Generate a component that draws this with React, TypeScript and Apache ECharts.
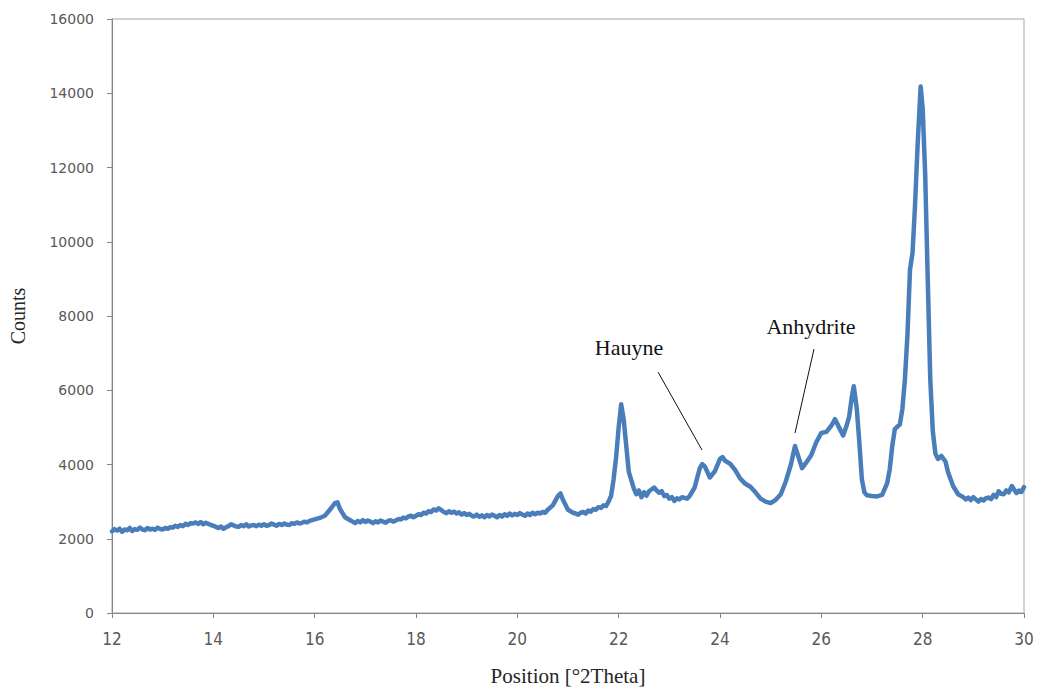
import React, { useEffect, useRef } from "react";
import * as echarts from "echarts";

const position = [
  12.0, 12.05, 12.1, 12.15, 12.2, 12.25, 12.3, 12.35, 12.4, 12.45, 12.5, 12.55, 12.6, 12.65, 12.7, 12.75, 12.8, 12.85, 12.9, 12.95,
  13.0, 13.05, 13.1, 13.15, 13.2, 13.25, 13.3, 13.35, 13.4, 13.45, 13.5, 13.55, 13.6, 13.65, 13.7, 13.75, 13.8, 13.85, 13.9, 13.95,
  14.0, 14.05, 14.1, 14.15, 14.2, 14.25, 14.3, 14.35, 14.4, 14.45, 14.5, 14.55, 14.6, 14.65, 14.7, 14.75, 14.8, 14.85, 14.9, 14.95,
  15.0, 15.05, 15.1, 15.15, 15.2, 15.25, 15.3, 15.35, 15.4, 15.45, 15.5, 15.55, 15.6, 15.65, 15.7, 15.75, 15.8, 15.85, 15.9, 15.95,
  16.0, 16.1, 16.2, 16.3, 16.4, 16.45, 16.5, 16.6, 16.7, 16.75, 16.8, 16.85, 16.9, 16.95,
  17.0, 17.05, 17.1, 17.15, 17.2, 17.25, 17.3, 17.35, 17.4, 17.45, 17.5, 17.55, 17.6, 17.65, 17.7, 17.75, 17.8, 17.85, 17.9, 17.95,
  18.0, 18.05, 18.1, 18.15, 18.2, 18.25, 18.3, 18.35, 18.4, 18.45, 18.5, 18.55, 18.6, 18.65, 18.7, 18.75, 18.8, 18.85, 18.9, 18.95,
  19.0, 19.05, 19.1, 19.15, 19.2, 19.25, 19.3, 19.35, 19.4, 19.45, 19.5, 19.55, 19.6, 19.65, 19.7, 19.75, 19.8, 19.85, 19.9, 19.95,
  20.0, 20.05, 20.1, 20.15, 20.2, 20.25, 20.3, 20.35, 20.4, 20.45, 20.5, 20.55, 20.6, 20.7, 20.8, 20.85, 20.9,
  21.0, 21.05, 21.1, 21.15, 21.2, 21.25, 21.3, 21.35, 21.4, 21.45, 21.5, 21.55, 21.6, 21.65, 21.7, 21.75, 21.8, 21.85, 21.9, 21.95,
  22.0, 22.05, 22.1, 22.15, 22.2, 22.3, 22.35, 22.4, 22.45, 22.5, 22.55, 22.6, 22.7, 22.75, 22.8, 22.85, 22.9, 22.95,
  23.0, 23.05, 23.1, 23.15, 23.2, 23.25, 23.3, 23.35, 23.4, 23.5, 23.6, 23.65, 23.7, 23.8, 23.9,
  24.0, 24.05, 24.1, 24.2, 24.3, 24.4, 24.5, 24.6, 24.7, 24.8, 24.9,
  25.0, 25.1, 25.2, 25.3, 25.4, 25.48, 25.55, 25.62, 25.7, 25.8, 25.9,
  26.0, 26.1, 26.2, 26.27, 26.35, 26.43, 26.5, 26.55, 26.6, 26.64, 26.7, 26.75, 26.8, 26.85, 26.9,
  27.0, 27.1, 27.2, 27.3, 27.35, 27.4, 27.45, 27.55, 27.6, 27.65, 27.7, 27.75, 27.8, 27.85, 27.9, 27.96,
  28.0, 28.05, 28.1, 28.15, 28.2, 28.25, 28.3, 28.37, 28.45, 28.5, 28.6, 28.7, 28.8, 28.85, 28.9, 28.95,
  29.0, 29.05, 29.1, 29.15, 29.2, 29.25, 29.3, 29.35, 29.4, 29.45, 29.5, 29.55, 29.6, 29.65, 29.7, 29.76, 29.85, 29.9, 29.95, 30.0,
];

const counts = [
  2200, 2260, 2220, 2270, 2190, 2250, 2230, 2290, 2210, 2260, 2240, 2300, 2250, 2230, 2290, 2250, 2270, 2240, 2300, 2260,
  2250, 2290, 2270, 2310, 2300, 2350, 2320, 2370, 2340, 2400, 2370, 2420, 2410, 2440, 2400, 2450, 2390, 2430, 2400, 2370,
  2350, 2320, 2290, 2330, 2270, 2310, 2340, 2390, 2360, 2330, 2320, 2370, 2340, 2390, 2330, 2360, 2370, 2340, 2380, 2350,
  2390, 2350, 2370, 2410, 2380, 2350, 2400, 2370, 2410, 2380, 2370, 2420, 2400, 2440, 2410, 2430, 2460, 2440, 2480, 2500,
  2520, 2560, 2620, 2780, 2960, 2980, 2800, 2580, 2500, 2460, 2420, 2480, 2440, 2500,
  2450, 2490, 2460, 2420, 2470, 2440, 2490, 2460, 2430, 2480, 2500, 2460, 2490, 2530, 2520, 2570, 2550, 2600, 2620, 2580,
  2620, 2660, 2640, 2700, 2680, 2740, 2720, 2790, 2760, 2820, 2770, 2720, 2690, 2740, 2700, 2730, 2680, 2710, 2650, 2690,
  2640, 2670, 2620, 2600, 2650, 2590, 2630, 2580, 2640, 2600, 2650, 2620, 2580, 2640, 2600, 2660, 2620, 2680, 2630, 2670,
  2640, 2690, 2650, 2620, 2680, 2640, 2700, 2660, 2700, 2680, 2720, 2700, 2780, 2900, 3150, 3220, 3050,
  2780, 2740, 2700, 2680, 2650, 2700, 2720, 2680, 2760, 2730, 2800, 2780, 2850, 2830, 2900, 2880, 3000, 3150, 3600, 4200,
  5000, 5620, 5200, 4500, 3800, 3350, 3200, 3300, 3120, 3250, 3160, 3280, 3380, 3300, 3240, 3280, 3150, 3180,
  3080, 3120, 3020, 3090, 3060, 3120, 3100, 3080, 3150, 3380, 3900, 4010, 3950, 3650, 3820,
  4150, 4200, 4100, 4020, 3850, 3620, 3480, 3400, 3250, 3080, 3000,
  2960, 3050, 3200, 3550, 4000, 4500, 4200, 3900, 4050, 4250, 4600,
  4850, 4880, 5050, 5220, 5000, 4780, 5050, 5300, 5800, 6110, 5500, 4600, 3600, 3250, 3170,
  3150, 3140, 3180, 3500, 3870, 4500, 4950, 5080, 5500, 6300, 7500, 9250, 9700, 11000, 12600, 14180,
  13600, 11800, 9000, 6300, 4900, 4300, 4150, 4230, 4080, 3800, 3420, 3200, 3120, 3060, 3110, 3040,
  3120, 3060, 3000, 3070, 3030, 3090, 3110, 3070, 3180, 3120, 3280, 3210, 3200, 3300, 3250, 3420, 3230, 3300, 3260, 3390,
];

const xTicks = { min: 12, max: 30, interval: 2 };
const yTicks = { min: 0, max: 16000, interval: 2000 };

const xTitle = "Position [°2Theta]";
const yTitle = "Counts";
const annotations = ["Hauyne", "Anhydrite"];

export default function App() {
  const ref = useRef<HTMLDivElement>(null);

  useEffect(() => {
    if (!ref.current) return;
    const chart = echarts.init(ref.current, undefined, { renderer: "svg" });
    const data = position.map((p, i) => [p, counts[i]]);
    const serif = "'Liberation Serif', 'Times New Roman', serif";
    const axisColor = "#868686";
    const labelColor = "#595959";

    chart.setOption({
      animation: false,
      backgroundColor: "#ffffff",
      grid: {
        left: 112,
        right: 17,
        top: 19,
        bottom: 77,
        show: true,
        borderColor: "#a6a6a6",
        borderWidth: 1,
      },
      xAxis: {
        type: "value",
        min: xTicks.min,
        max: xTicks.max,
        interval: xTicks.interval,
        splitLine: { show: false },
        axisLine: { show: true, lineStyle: { color: axisColor, width: 1 } },
        axisTick: { show: true, length: 5, lineStyle: { color: axisColor } },
        axisLabel: {
          margin: 17,
          color: labelColor,
          fontSize: 17,
          fontFamily: "'DejaVu Sans Condensed', 'DejaVu Sans', sans-serif",
          formatter: (v: number) => String(v),
        },
        name: xTitle,
        nameLocation: "middle",
        nameGap: 52,
        nameTextStyle: { fontFamily: serif, fontSize: 21, color: "#262626" },
      },
      yAxis: {
        type: "value",
        min: yTicks.min,
        max: yTicks.max,
        interval: yTicks.interval,
        splitLine: { show: false },
        axisLine: { show: true, lineStyle: { color: axisColor, width: 1 } },
        axisTick: { show: true, length: 5, lineStyle: { color: axisColor } },
        axisLabel: {
          margin: 18,
          color: labelColor,
          fontSize: 14,
          fontFamily: "'DejaVu Sans', sans-serif",
          formatter: (v: number) => String(v),
        },
        name: yTitle,
        nameLocation: "middle",
        nameGap: 84,
        nameTextStyle: { fontFamily: serif, fontSize: 20, color: "#262626" },
      },
      series: [
        {
          type: "line",
          data,
          showSymbol: false,
          symbol: "none",
          lineStyle: { color: "#4a7ebb", width: 4.5, join: "round", cap: "round" },
          z: 3,
        },
      ],
      graphic: [
        {
          type: "text",
          x: 629,
          y: 347,
          style: {
            text: annotations[0],
            font: `22px ${serif}`,
            fill: "#111",
            align: "center",
            verticalAlign: "middle",
          },
        },
        {
          type: "text",
          x: 811,
          y: 326,
          style: {
            text: annotations[1],
            font: `22px ${serif}`,
            fill: "#111",
            align: "center",
            verticalAlign: "middle",
          },
        },
        {
          type: "line",
          shape: { x1: 658, y1: 372, x2: 702, y2: 450 },
          style: { stroke: "#111", lineWidth: 1 },
        },
        {
          type: "line",
          shape: { x1: 814, y1: 349, x2: 795, y2: 433 },
          style: { stroke: "#111", lineWidth: 1 },
        },
      ],
    });

    return () => chart.dispose();
  }, []);

  return (
    <div
      ref={ref}
      style={{ position: "absolute", left: 0, top: 0, width: 1041, height: 691 }}
    />
  );
}
